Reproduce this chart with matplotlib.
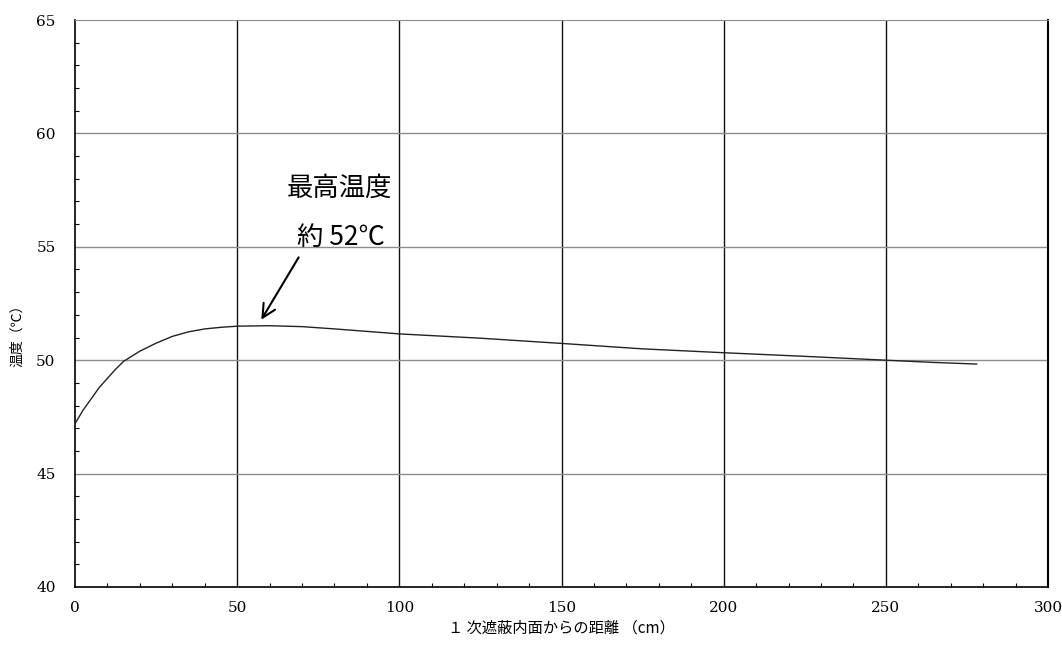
import matplotlib
matplotlib.use("Agg")
import matplotlib.pyplot as plt
from matplotlib.ticker import MultipleLocator

# distance from inner face of primary shield (cm) vs temperature (deg C)
distance = [0, 2.5, 5, 7.5, 10, 12.5, 15, 20, 25, 30, 35, 40, 45, 50, 60,
            70, 80, 90, 100, 125, 150, 175, 200, 225, 250, 265, 278]
temperature = [47.2, 47.8, 48.3, 48.8, 49.2, 49.6, 49.95, 50.4, 50.75,
               51.05, 51.25, 51.38, 51.45, 51.5, 51.52, 51.48, 51.38, 51.27,
               51.16, 50.97, 50.74, 50.5, 50.33, 50.17, 50.0, 49.9, 49.83]

x_ticks = [0, 50, 100, 150, 200, 250, 300]
y_ticks = [40, 45, 50, 55, 60, 65]

peak_label = "最高温度"
peak_value = "約 52℃"
peak_point = (57, 51.68)

jp = ["Noto Sans CJK JP", "DejaVu Sans"]
serif = ["DejaVu Serif"]

fig = plt.figure(figsize=(10.62, 6.46), dpi=100)
ax = fig.add_axes([75 / 1062, 59 / 646, 973 / 1062, 567 / 646])

ax.plot(distance, temperature, color="#222222", lw=1.0, zorder=3)

ax.set_xlim(0, 300)
ax.set_ylim(40, 65)
ax.set_xticks(x_ticks)
ax.set_yticks(y_ticks)
ax.xaxis.set_minor_locator(MultipleLocator(10))
ax.yaxis.set_minor_locator(MultipleLocator(1))

for v in x_ticks[1:-1]:
    ax.axvline(v, color="#111111", lw=1.0, zorder=1)
for v in y_ticks[1:-1]:
    ax.axhline(v, color="#8c8c8c", lw=1.0, zorder=1)

ax.tick_params(which="major", direction="in", length=0, labelsize=11)
ax.tick_params(which="minor", direction="in", length=3, width=0.8)
ax.tick_params(which="both", top=False, right=False)
ax.tick_params(axis="y", pad=14)
ax.tick_params(axis="x", pad=10)
for lab in ax.get_xticklabels() + ax.get_yticklabels():
    lab.set_family(serif)

ax.spines["top"].set_color("#8c8c8c")
ax.spines["right"].set_linewidth(1.5)
for s in ["left", "bottom"]:
    ax.spines[s].set_linewidth(1.2)

ax.set_xlabel("１ 次遮蔽内面からの距離 （cm）", family=jp, fontsize=11, labelpad=3)
ax.set_ylabel("温度（℃）", family=jp, fontsize=10)
ax.yaxis.set_label_coords(-0.052, 0.45)

ax.text(81.5, 57.6, peak_label, family=jp, fontsize=19, ha="center", va="center")
ax.text(82, 55.43, peak_value, family=jp, fontsize=19, ha="center", va="center")
ax.annotate("", xy=peak_point, xytext=(69.4, 54.64),
            arrowprops=dict(arrowstyle="->", color="black", lw=1.5,
                            mutation_scale=24))

fig.savefig("out.png", dpi=100, facecolor="white")
